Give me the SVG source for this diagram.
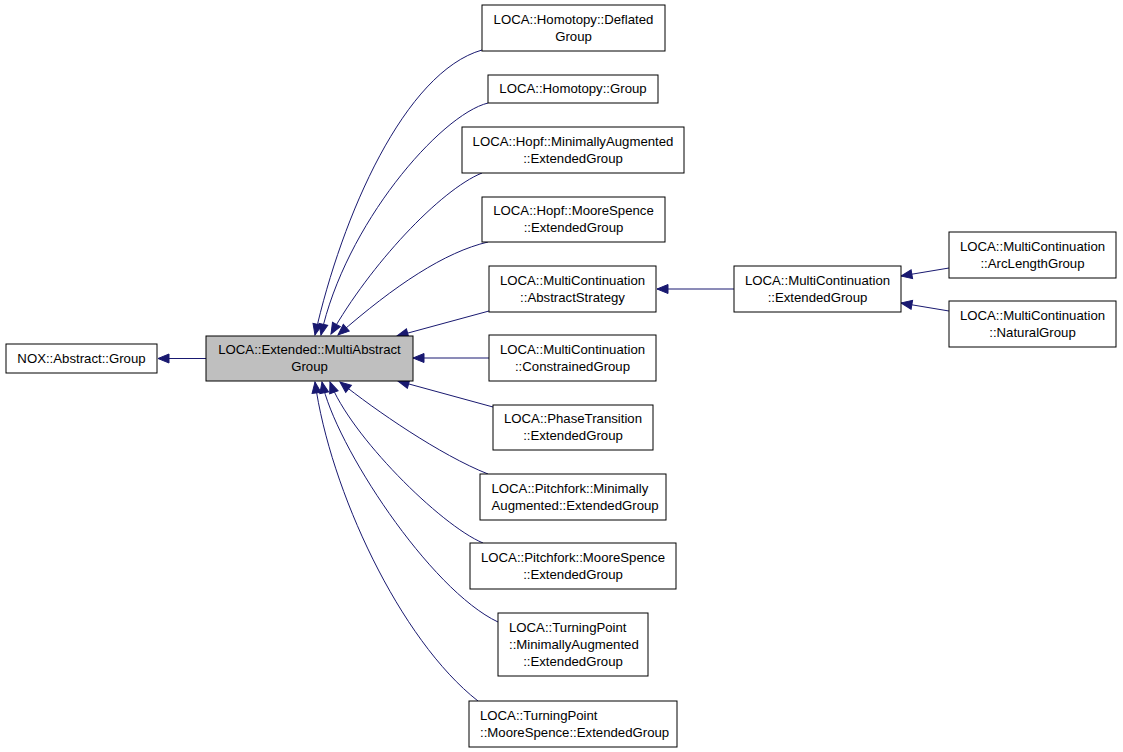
<svg xmlns="http://www.w3.org/2000/svg" width="1123" height="752" viewBox="0 0 1123 752">
<style>
.n rect{fill:#ffffff;stroke:#000000;stroke-width:1}
.n.hl rect{fill:#bfbfbf}
text{font-family:"Liberation Sans",Arial,Helvetica,sans-serif;font-size:13.2px;fill:#000000}
.c{text-anchor:middle}
.l{text-anchor:start}
#edges path{fill:none;stroke:#191970;stroke-width:1;marker-end:url(#ah)}
</style>
<defs>
<marker id="ah" markerUnits="userSpaceOnUse" viewBox="-1 -1 14 12" markerWidth="14" markerHeight="12" refX="11" refY="5" orient="auto">
<path d="M0,0.5 L11,5 L0,9.5 Z" fill="#191970" stroke="#191970" stroke-width="1"/>
</marker>
</defs>
<rect x="0" y="0" width="1123" height="752" fill="#ffffff"/>
<g id="edges">
<path d="M206,358.5 L158,358.5"/>
<path d="M482,50 C405,72 342,215 315,335"/>
<path d="M488,103 C440,115 345,225 321,335"/>
<path d="M482,173 C440,190 370,265 331,334"/>
<path d="M488,242 C445,252 395,285 338,335"/>
<path d="M489,311 L397,336"/>
<path d="M489,358 L413,358"/>
<path d="M493,407 L398,381"/>
<path d="M488,474 C440,455 375,410 340,382"/>
<path d="M483,543 C440,525 350,435 330,382"/>
<path d="M498,622 C430,590 335,445 322,382"/>
<path d="M478,701 C400,640 330,490 315,382"/>
<path d="M734,289 L657,289"/>
<path d="M949,268 L901,276"/>
<path d="M949,311 L901,303"/>
</g>
<g id="nox_abstract_group" class="n"><rect x="6" y="344" width="151" height="29"/><text class="c" x="81.5" y="362.5">NOX::Abstract::Group</text></g>
<g id="loca_extended_multiabstractgroup" class="n hl"><rect x="206" y="336" width="207" height="45"/><text class="c" x="309.5" y="354">LOCA::Extended::MultiAbstract</text><text class="c" x="309.5" y="371">Group</text></g>
<g id="homotopy_deflatedgroup" class="n"><rect x="482" y="5" width="183" height="46"/><text class="c" x="573.5" y="23.5">LOCA::Homotopy::Deflated</text><text class="c" x="573.5" y="40.5">Group</text></g>
<g id="homotopy_group" class="n"><rect x="488" y="75" width="170" height="28"/><text class="c" x="573" y="93">LOCA::Homotopy::Group</text></g>
<g id="hopf_minaug_extendedgroup" class="n"><rect x="462" y="127" width="222" height="46"/><text class="c" x="573" y="145.5">LOCA::Hopf::MinimallyAugmented</text><text class="c" x="573" y="162.5">::ExtendedGroup</text></g>
<g id="hopf_moorespence_extendedgroup" class="n"><rect x="482" y="197" width="183" height="45"/><text class="c" x="573.5" y="215">LOCA::Hopf::MooreSpence</text><text class="c" x="573.5" y="232">::ExtendedGroup</text></g>
<g id="mc_abstractstrategy" class="n"><rect x="489" y="266" width="167" height="46"/><text class="c" x="572.5" y="284.5">LOCA::MultiContinuation</text><text class="c" x="572.5" y="301.5">::AbstractStrategy</text></g>
<g id="mc_constrainedgroup" class="n"><rect x="489" y="335" width="167" height="46"/><text class="c" x="572.5" y="353.5">LOCA::MultiContinuation</text><text class="c" x="572.5" y="370.5">::ConstrainedGroup</text></g>
<g id="phasetransition_extendedgroup" class="n"><rect x="493" y="405" width="160" height="45"/><text class="c" x="573" y="423">LOCA::PhaseTransition</text><text class="c" x="573" y="440">::ExtendedGroup</text></g>
<g id="pitchfork_minaug_extendedgroup" class="n"><rect x="480" y="474" width="186" height="46"/><text class="l" x="491.5" y="492.5">LOCA::Pitchfork::Minimally</text><text class="l" x="491.5" y="509.5">Augmented::ExtendedGroup</text></g>
<g id="pitchfork_moorespence_extendedgroup" class="n"><rect x="470" y="543" width="206" height="46"/><text class="c" x="573" y="561.5">LOCA::Pitchfork::MooreSpence</text><text class="c" x="573" y="578.5">::ExtendedGroup</text></g>
<g id="turningpoint_minaug_extendedgroup" class="n"><rect x="498" y="613" width="150" height="63"/><text class="l" x="509" y="631.5">LOCA::TurningPoint</text><text class="l" x="509" y="648.5">::MinimallyAugmented</text><text class="c" x="573" y="665.5">::ExtendedGroup</text></g>
<g id="turningpoint_moorespence_extendedgroup" class="n"><rect x="469" y="701" width="208" height="46"/><text class="l" x="480" y="719.5">LOCA::TurningPoint</text><text class="l" x="480" y="736.5">::MooreSpence::ExtendedGroup</text></g>
<g id="mc_extendedgroup" class="n"><rect x="734" y="266" width="167" height="46"/><text class="c" x="817.5" y="284.5">LOCA::MultiContinuation</text><text class="c" x="817.5" y="301.5">::ExtendedGroup</text></g>
<g id="mc_arclengthgroup" class="n"><rect x="949" y="232" width="167" height="46"/><text class="c" x="1032.5" y="250.5">LOCA::MultiContinuation</text><text class="c" x="1032.5" y="267.5">::ArcLengthGroup</text></g>
<g id="mc_naturalgroup" class="n"><rect x="949" y="301" width="167" height="46"/><text class="c" x="1032.5" y="319.5">LOCA::MultiContinuation</text><text class="c" x="1032.5" y="336.5">::NaturalGroup</text></g>
</svg>
